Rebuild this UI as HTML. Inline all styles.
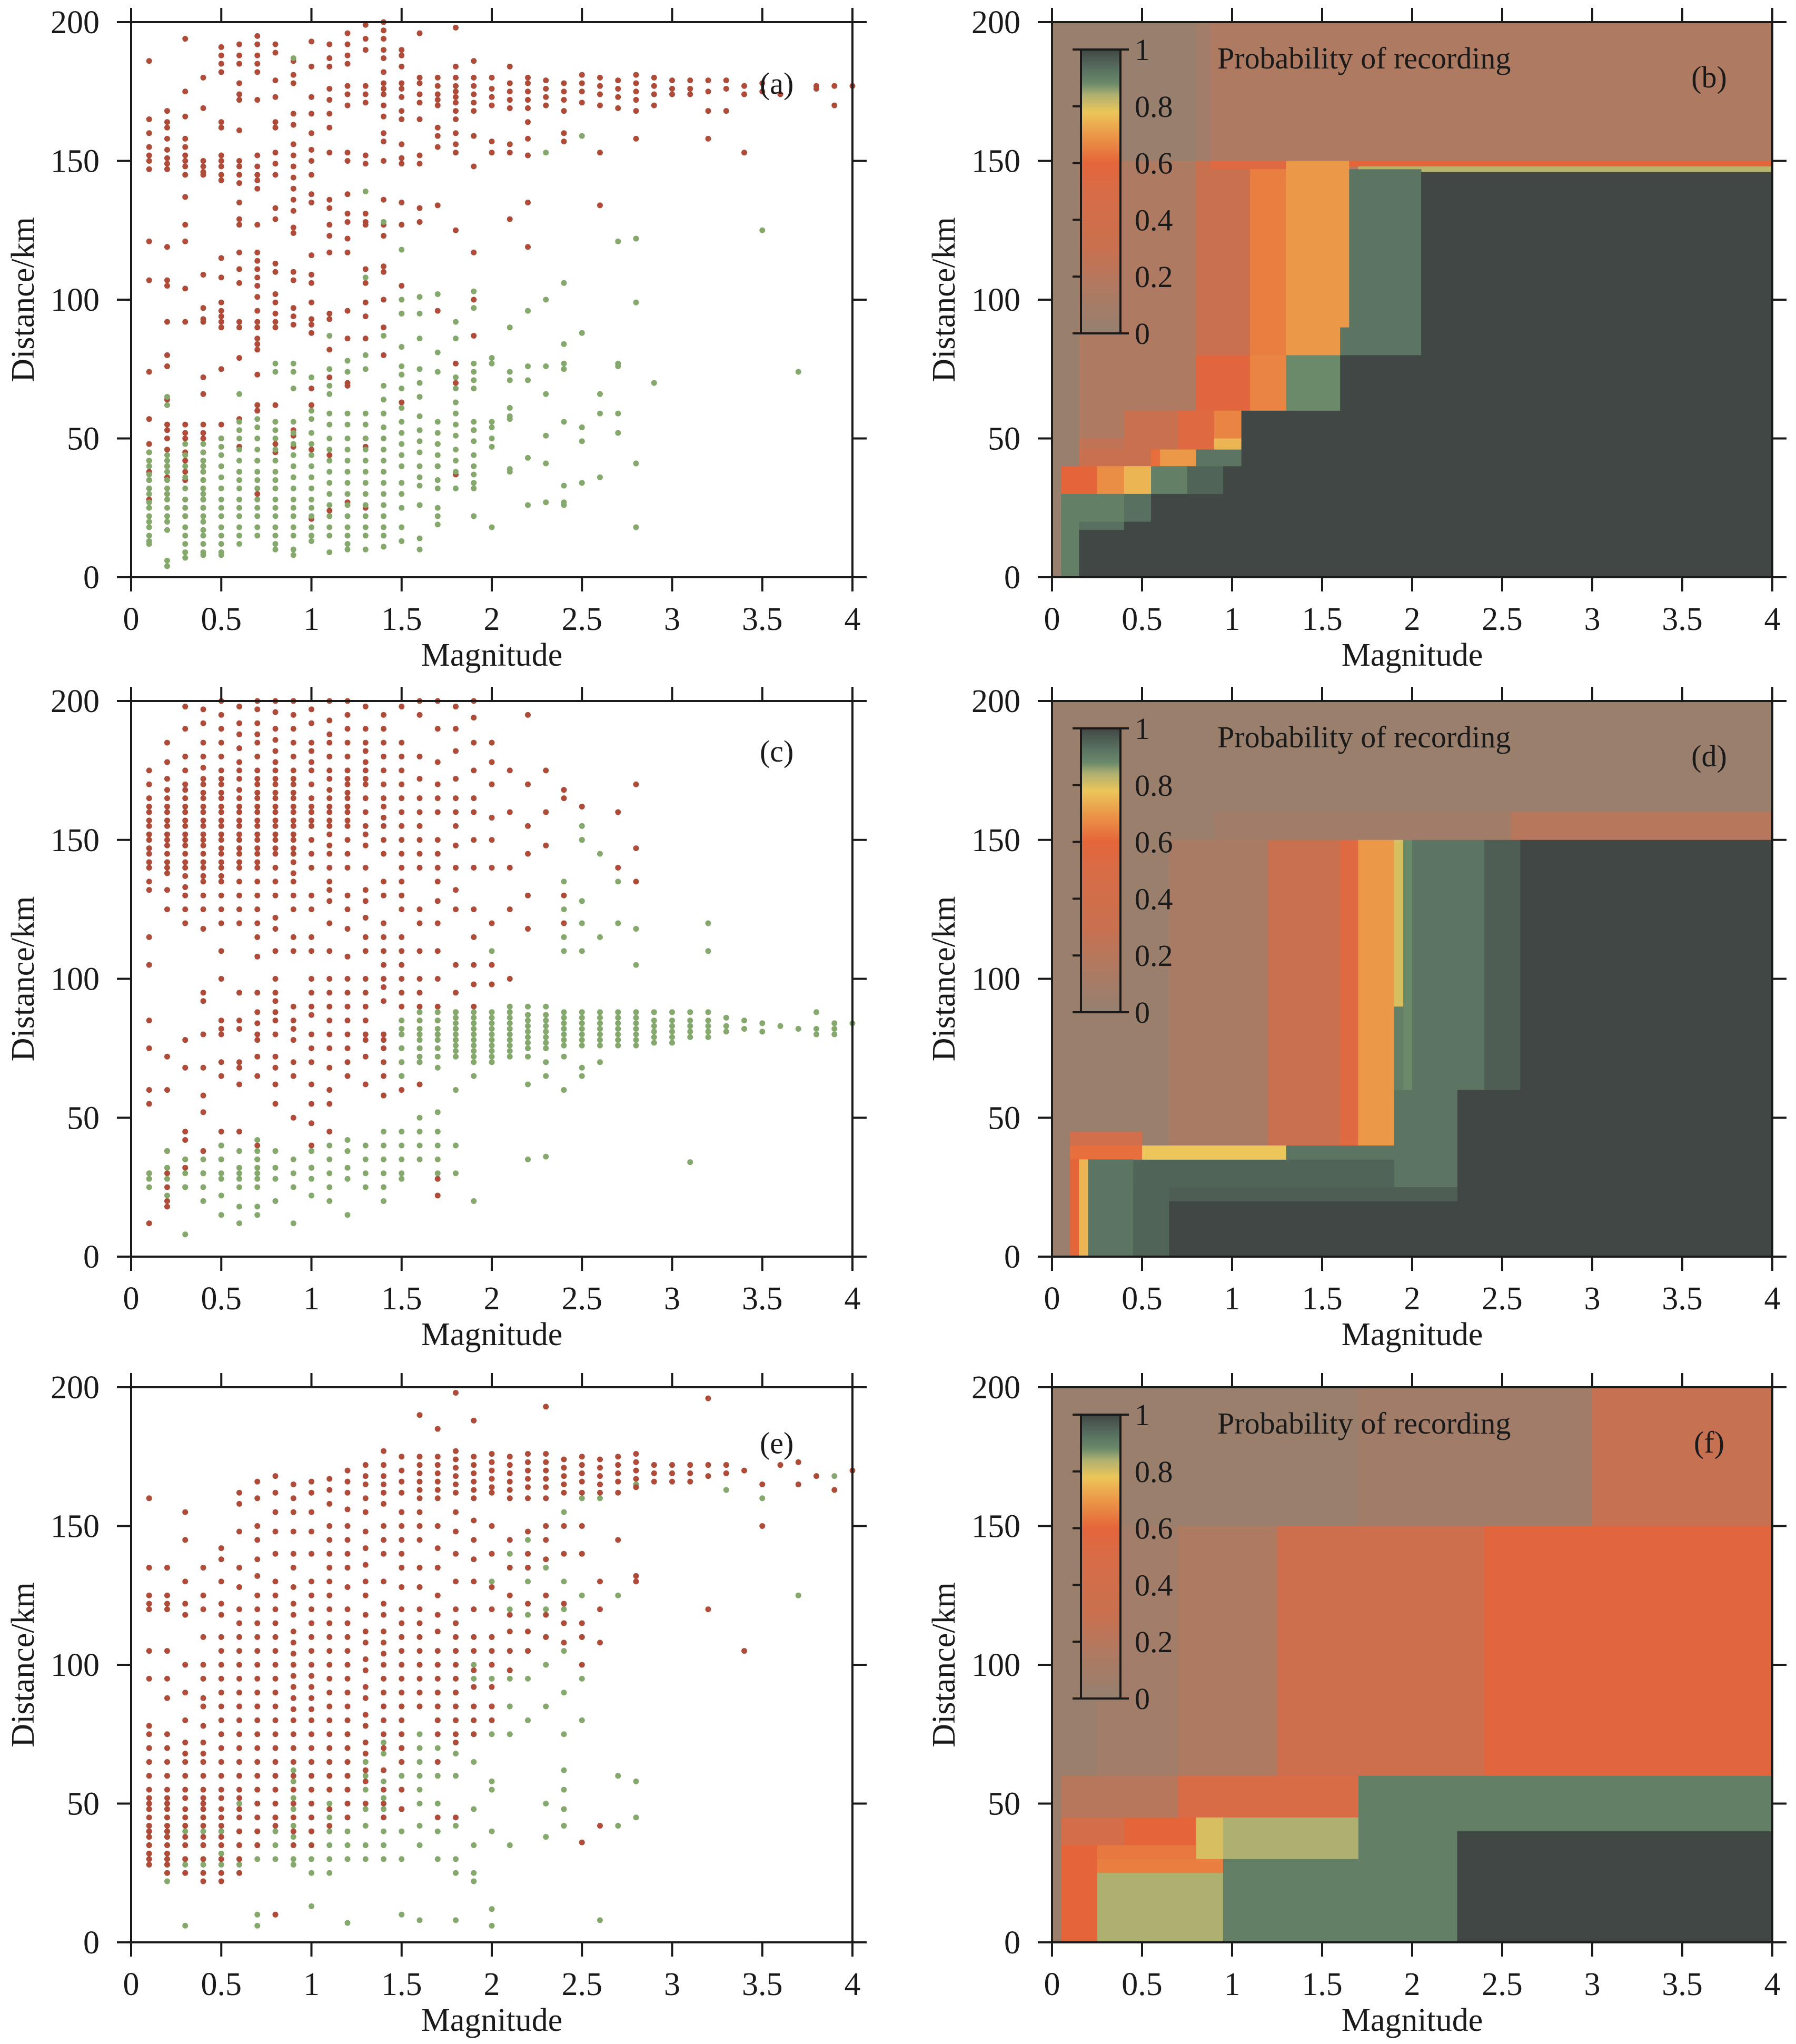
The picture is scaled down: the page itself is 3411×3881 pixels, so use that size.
<!DOCTYPE html>
<html><head><meta charset="utf-8"><style>
html,body{margin:0;padding:0;background:#fff}
svg{display:block}
text{font-family:"Liberation Serif","DejaVu Serif",serif;fill:#1a1a1a}
</style></head><body>
<svg id="fig" xmlns="http://www.w3.org/2000/svg" width="3411" height="3881" viewBox="0 0 3411 3881" font-family="Liberation Serif, DejaVu Serif, serif"></svg>
<script>
// ---------- DATA ----------
const magTicks = [0,0.5,1,1.5,2,2.5,3,3.5,4];
const magTickLabels = ["0","0.5","1","1.5","2","2.5","3","3.5","4"];
const distTicks = [0,50,100,150,200];
const distTickLabels = ["0","50","100","150","200"];
const cbTicks = [0,0.2,0.4,0.6,0.8,1];
const cbTickLabels = ["0","0.2","0.4","0.6","0.8","1"];

// panel a: [magnitude, distances]
const aRed = [
[0.1,[186,165,160,155,152,150,147,121,107,74,57,48,45,42,38,35,32,28]],
[0.2,[168,164,162,158,154,151,149,147,119,107,105,92,80,76,64,55,53,50,46,40,36,30]],
[0.3,[194,175,166,158,155,152,150,148,145,137,127,121,104,92,55,52,50,45,42,38,35,28,22]],
[0.4,[180,169,150,148,146,145,109,97,93,92,72,66,55,52,50,45,42,40,38,35,32,28,25]],
[0.5,[191,188,185,182,164,162,152,150,148,145,143,115,108,99,96,94,92,90,75,55,50]],
[0.6,[192,188,185,178,174,172,161,150,148,145,142,135,129,127,117,111,106,92,90,79,57,47,38]],
[0.7,[195,192,188,185,182,172,152,148,145,143,140,127,117,114,111,108,105,101,96,92,90,86,84,82,73,62,60,42,30]],
[0.8,[192,189,179,173,164,162,153,149,145,133,129,113,110,102,99,95,92,90,62,48,45]],
[0.9,[186,181,178,167,163,156,152,148,144,140,136,132,126,124,110,107,97,94,91,53,51,47]],
[1.0,[193,184,173,167,160,154,150,145,138,135,116,109,106,99,93,91,88,68,62,46,21]],
[1.1,[192,187,184,176,172,167,162,153,136,133,127,123,117,95,93,82,72,44,24]],
[1.2,[196,192,188,185,177,174,170,153,150,138,131,128,122,117,96,86,70,69,27]],
[1.3,[199,194,190,177,174,171,152,149,131,128,127,111,106,99,94,86,50,47,25]],
[1.4,[200,197,194,190,187,182,178,176,174,170,166,160,157,150,136,127,123,112,110,100,90,80]],
[1.5,[190,188,184,178,176,173,168,165,156,151,149,135,127,105,95,73,63]],
[1.6,[196,180,178,174,171,165,152,149,133,128]],
[1.7,[180,177,174,172,170,162,159,155,134,96,48,40]],
[1.8,[198,184,180,177,175,173,171,168,165,160,156,153,125,77,70,37]],
[1.9,[186,180,177,174,171,168,159,148,117,100,87,53]],
[2.0,[180,176,173,170,157,153]],
[2.1,[184,178,175,172,169,156,153,129]],
[2.2,[180,178,175,172,169,164,158,152,135,119]],
[2.3,[179,176,173,170]],
[2.4,[178,175,172,168,160,157]],
[2.5,[181,178,175,171]],
[2.6,[180,177,174,170,153,134]],
[2.7,[179,176,173,169]],
[2.8,[181,178,175,172,168,158]],
[2.9,[180,177,174,170]],
[3.0,[179,176,174]],
[3.1,[179,176,174]],
[3.2,[179,175,168,158]],
[3.3,[179,176,168]],
[3.4,[177,174,153]],
[3.5,[178,175]],
[3.6,[174]],
[3.8,[177,176]],
[3.9,[177,170]],
[4.0,[177]]
];
const aGreen = [
[0.1,[45,42,40,37,35,32,30,27,25,22,20,18,15,13,12]],
[0.2,[65,62,44,42,40,38,35,32,30,28,25,22,20,17,6,4]],
[0.3,[48,44,40,36,32,28,25,22,18,15,12,9,7]],
[0.4,[48,45,42,40,38,35,32,30,28,25,22,20,17,15,12,9,8]],
[0.5,[50,47,44,40,36,32,28,25,22,18,15,12,9,8]],
[0.6,[66,56,53,50,46,42,38,35,32,28,25,22,18,15,12]],
[0.7,[57,54,50,46,42,38,35,32,28,25,22,18,15]],
[0.8,[77,74,56,53,50,46,42,38,35,32,28,25,22,18,15,12,10]],
[0.9,[187,77,74,68,56,52,48,44,40,36,32,28,25,22,18,15,10,8]],
[1.0,[72,60,57,52,48,44,40,36,32,28,25,22,18,15,13]],
[1.1,[87,75,69,66,59,55,50,46,42,38,34,30,26,22,18,15,9]],
[1.2,[78,74,59,55,50,46,42,38,34,30,26,22,18,15,12,10]],
[1.3,[139,108,80,75,59,55,50,46,42,38,34,30,26,22,18,15,10]],
[1.4,[128,87,69,64,59,54,50,46,42,38,34,30,26,22,18,15,11]],
[1.5,[118,100,95,83,76,73,68,61,56,52,48,44,40,34,30,25,18,13]],
[1.6,[101,95,86,75,70,65,58,53,49,45,40,36,33,26,14,10]],
[1.7,[102,81,74,56,52,48,44,40,35,32,25,22,19]],
[1.8,[92,86,72,68,63,59,55,51,46,42,38,32]],
[1.9,[103,97,77,74,71,68,56,53,49,44,40,37,34,32,22]],
[2.0,[79,77,56,54,50,47,18]],
[2.1,[90,74,71,61,58,57,39,38]],
[2.2,[96,76,71,43,26]],
[2.3,[153,100,76,66,51,41,27]],
[2.4,[106,84,77,75,56,33,27,26]],
[2.5,[159,88,54,49,34]],
[2.6,[66,59,36]],
[2.7,[121,77,76,59,52]],
[2.8,[122,99,41,18]],
[2.9,[70]],
[3.5,[125]],
[3.7,[74]]
];
const cRed = [
[0.1,[175,170,165,162,160,157,155,152,150,147,145,142,140,135,132,115,105,85,75,60,55,30,12]],
[0.2,[185,178,172,168,165,162,160,157,155,152,150,148,145,142,140,138,132,125,72,60,38,30,25,20,18]],
[0.3,[198,190,180,175,170,168,165,162,160,157,155,152,150,148,145,142,140,137,133,130,125,120,78,68,45,42,35,32,25]],
[0.4,[197,192,185,180,176,172,170,167,165,162,160,157,155,152,150,148,145,142,140,137,135,130,125,118,95,92,80,68,58,52,38,30]],
[0.5,[200,195,190,185,180,175,172,170,167,165,162,160,157,155,152,150,147,145,142,140,137,135,130,125,120,110,100,85,82,80,70,65,45,40,35]],
[0.6,[198,192,188,183,178,175,172,168,165,162,160,157,155,152,150,147,145,142,140,135,130,125,120,95,85,82,70,68,62,45]],
[0.7,[200,197,192,188,185,180,175,172,170,167,165,162,160,157,155,152,150,147,145,142,140,135,130,125,120,115,108,95,88,84,80,78,72,65,40,35]],
[0.8,[200,196,190,186,182,178,175,172,170,167,165,162,160,157,155,152,150,147,145,140,135,130,122,118,110,100,95,92,88,85,80,72,68,62,55]],
[0.9,[200,195,190,185,180,175,172,170,167,165,162,160,157,155,152,150,147,145,142,138,135,130,125,115,110,90,85,82,78,70,65,50]],
[1.0,[197,192,185,182,178,175,170,165,162,160,157,155,150,145,140,130,125,115,110,100,95,90,87,80,75,70,62,55,48,40,32]],
[1.1,[200,193,188,185,180,175,172,168,165,162,160,157,155,152,148,145,140,135,132,128,120,110,100,95,90,85,80,75,68,60,55,45]],
[1.2,[200,195,190,185,180,175,172,170,167,165,162,160,157,155,150,145,140,130,125,118,108,100,95,90,85,80,75,70,65]],
[1.3,[198,190,185,182,178,175,172,170,165,160,155,152,148,140,132,128,122,115,110,100,95,90,85,80,78,72,62]],
[1.4,[195,190,185,180,175,170,165,162,158,155,150,145,135,130,120,115,110,105,100,97,92,80,78,75,70,65,58]],
[1.5,[198,185,180,175,170,165,160,155,150,145,140,135,130,125,115,110,105,100,95,90,85,80,75,70,65,60]],
[1.6,[200,195,180,172,165,160,155,150,145,140,125,120,110,100,95,90,85,80,75,70,62]],
[1.7,[200,190,178,170,165,160,150,145,140,135,128,120,110,100,90,85,80,75,28,22]],
[1.8,[198,190,182,172,165,160,155,148,140,132,125,105,95,88,82,78]],
[1.9,[200,194,185,175,165,160,150,140,125,115,105,98,90]],
[2.0,[185,178,170,158,150,140,120,105,98]],
[2.1,[175,160,140,125,100]],
[2.2,[195,170,155,145,130,118]],
[2.3,[175,160,148]],
[2.4,[168,165,130,120]],
[2.5,[162,150]],
[2.7,[160,140]],
[2.8,[170,147,135]]
];
const cGreen = [
[0.1,[30,28,25]],[0.2,[38,32,28,22]],[0.3,[35,30,25,8]],[0.4,[35,30,25,20]],
[0.5,[40,35,30,28,22,15]],[0.6,[38,32,30,28,25,18,12]],[0.7,[42,38,35,32,30,28,25,18,15]],
[0.8,[38,32,28,20]],[0.9,[35,30,25,12]],[1.0,[38,32,28,22]],[1.1,[40,35,30,25,20]],
[1.2,[42,38,32,28,15]],[1.3,[40,35,30,25]],[1.4,[45,40,35,30,25,20]],
[1.5,[85,82,80,75,70,65,45,40,35,30,28]],
[1.6,[88,85,82,80,78,75,72,70,50,45,40,35]],
[1.7,[88,85,82,80,78,75,72,68,52,45,40,35,30]],
[1.8,[88,86,84,82,80,78,76,74,72,60,40,30]],
[1.9,[88,86,84,82,80,78,76,74,72,70,65,20]],
[2.0,[110,88,86,84,82,80,78,76,74,72,70]],
[2.1,[90,88,86,84,82,80,78,76,74,72]],
[2.2,[90,87,85,83,81,79,77,75,72,62,35]],
[2.3,[90,87,85,83,81,79,77,75,70,65,36]],
[2.4,[135,125,115,110,88,86,84,82,80,78,76,72,60]],
[2.5,[155,150,128,120,110,88,86,84,82,80,78,76,68,65]],
[2.6,[145,115,88,86,84,82,80,78,76,70]],
[2.7,[135,120,88,86,84,82,80,78,76]],
[2.8,[118,105,88,86,84,82,80,78,76]],
[2.9,[88,85,83,81,79,77]],[3.0,[88,85,83,81,79,77]],[3.1,[88,85,83,81,79,34]],
[3.2,[120,110,88,85,83,81,79]],[3.3,[86,83,81]],[3.4,[85,82]],[3.5,[84,81]],
[3.6,[83]],[3.7,[82]],[3.8,[88,82,80]],[3.9,[84,82,80]],[4.0,[84]]
];
const eRed = [
[0.1,[160,135,125,122,120,105,95,78,75,70,65,60,55,52,50,48,45,42,40,38,35,32,30,28]],
[0.2,[135,125,122,120,105,95,88,75,70,65,60,55,52,50,48,45,42,40,38,35,32,30,28,25]],
[0.3,[155,145,130,122,118,100,90,80,72,68,65,60,55,52,48,45,42,38,35,30,25]],
[0.4,[135,125,120,110,100,95,88,85,78,72,68,65,60,55,52,50,48,45,42,38,35,30,25,22]],
[0.5,[142,138,130,122,118,110,105,100,95,90,85,80,75,70,65,60,55,52,48,45,42,38,35,30,25,22]],
[0.6,[162,158,148,135,128,120,115,110,105,100,95,90,85,80,75,70,65,60,55,52,48,45,40,35,30,25]],
[0.7,[166,160,150,145,138,132,125,120,115,110,105,100,95,90,85,80,75,70,65,60,55,50,45,40,35]],
[0.8,[168,162,155,148,140,130,125,120,115,110,105,100,95,90,85,80,75,70,65,60,55,50,45,42,10]],
[0.9,[165,160,155,148,140,135,128,122,118,112,108,104,100,96,92,88,84,80,75,70,65,60,55,50,45,40,35]],
[1.0,[166,162,155,148,140,130,125,120,115,110,105,100,96,92,88,84,80,75,70,65,60,55,50,45,40,35]],
[1.1,[167,163,158,150,145,140,135,130,125,120,115,110,105,100,95,90,85,80,75,70,65,60,55,48,42]],
[1.2,[170,166,162,156,150,145,140,135,128,120,115,110,105,100,95,90,85,80,75,70,65,60,55,50,45]],
[1.3,[172,168,165,160,155,148,142,136,130,125,118,112,108,102,98,92,88,82,78,72,68,62,58,50]],
[1.4,[177,172,168,165,162,158,150,145,140,130,122,118,112,108,104,100,95,90,85,80,75,70,62,55,50,45]],
[1.5,[175,170,166,162,155,150,145,140,135,128,120,115,110,105,100,95,90,85,80,75,70,65,55,48]],
[1.6,[190,175,172,169,166,163,160,155,150,145,135,128,120,115,110,105,100,95,90,85]],
[1.7,[185,175,172,169,166,163,160,150,142,135,125,118,112,105,100,95,90,85,80,75,65,45]],
[1.8,[198,177,174,171,168,165,162,155,148,140,130,120,115,110,105,100,95,90,85,80,75,72,45]],
[1.9,[188,175,172,169,166,163,160,152,145,138,130,120,110,105,98,92,85,80,75]],
[2.0,[176,173,170,167,164,162,150,140,128,120,110,105,100,92,85,80]],
[2.1,[175,172,169,166,163,160,145,135,125,118,112,105,98]],
[2.2,[176,173,170,167,164,160,148,140,135,122,112,105]],
[2.3,[193,176,173,170,167,164,160,150,145,138,125,118,110]],
[2.4,[174,171,168,165,162,150,140,122,115,108]],
[2.5,[175,172,169,166,162,150,140,115,110,100,36]],
[2.6,[174,171,168,165,162,130,120,108,42]],
[2.7,[175,172,169,166,162,145]],
[2.8,[176,173,170,167,164,132,130]],
[2.9,[172,169,166]],[3.0,[172,169,166]],[3.1,[172,169,166]],
[3.2,[196,172,168,120]],[3.3,[172,169]],[3.4,[170,105]],[3.5,[165,150]],
[3.6,[172]],[3.7,[173,165]],[3.8,[168]],[3.9,[163]],[4.0,[170]]
];
const eGreen = [
[0.1,[40,38,35,32,30]],[0.2,[45,40,38,35,30,28,25,22]],[0.3,[40,35,30,28,25,6]],
[0.4,[45,40,35,30,28,25]],[0.5,[45,40,35,32,28,25]],[0.6,[50,45,40,35,30,28,25]],
[0.7,[55,50,45,40,35,30,10,6]],[0.8,[60,55,50,45,40,35,30,10]],
[0.9,[62,58,52,48,42,38,35,30,28]],[1.0,[65,60,55,50,45,40,35,30,25,13]],
[1.1,[70,65,60,55,50,45,40,35,30,25]],[1.2,[75,70,65,60,55,50,45,40,35,30,7]],
[1.3,[65,60,55,48,42,35,30]],[1.4,[72,68,62,58,52,48,40,35,30]],
[1.5,[85,70,65,60,55,48,40,30,10]],[1.6,[90,85,75,70,65,60,55,50,42,35,8]],
[1.7,[100,90,80,70,60,50,40,30]],[1.8,[115,105,90,80,68,60,42,30,25,8]],
[1.9,[120,100,95,85,75,65,48,35,25,22]],[2.0,[130,110,95,85,75,58,55,40,12,6]],
[2.1,[140,120,105,95,85,75,35]],[2.2,[145,130,118,105,95,80]],
[2.3,[150,135,120,110,100,85,50,38]],[2.4,[155,130,120,105,90,75,62,55,48,42]],
[2.5,[160,140,125,110,95,80]],[2.6,[160,8]],[2.7,[125,60,42]],[2.8,[165,58,45]],
[3.3,[163]],[3.5,[160]],[3.7,[125]],[3.9,[168]]
];
// heatmap cells: [mag0, mag1, dist0, dist1, probability]
const bCells = [
[0,4,0,200,0.15],[0,0.8,150,200,0.02],[0,0.15,40,150,0.02],[0,0.05,0,40,0.02],
[0.8,0.88,150,200,0.08],[0.8,1.1,80,150,0.3],[0.88,1.3,147,150,0.55],
[1.1,1.3,80,147,0.65],[1.3,1.65,80,150,0.7],[1.65,4,148,150,0.6],[1.7,4,146,148,0.83],
[1.65,2.05,80,147,0.92],[1.6,1.65,80,90,0.92],[2.05,4,0,146,1],
[0.8,1.1,60,80,0.58],[1.1,1.3,60,80,0.66],[1.3,1.6,60,80,0.88],
[1.6,2.05,0,80,1],[1.05,1.6,0,60,1],
[0.4,0.9,46,60,0.3],[0.7,0.9,46,60,0.55],[0.9,1.05,50,60,0.66],[0.9,1.05,46,50,0.75],
[0.15,0.4,46,50,0.25],[0.15,0.55,40,46,0.3],[0.55,0.6,40,46,0.62],[0.6,0.8,40,46,0.7],[0.8,1.05,40,46,0.92],
[0.05,0.25,30,40,0.6],[0.25,0.4,30,40,0.68],[0.4,0.55,30,40,0.75],[0.55,0.75,30,40,0.9],[0.75,0.95,30,40,0.95],[0.95,1.05,0,40,1],
[0.05,0.55,20,30,0.9],[0.4,0.55,20,30,0.93],[0.55,0.95,0,30,1],
[0.05,0.15,0,20,0.9],[0.15,0.4,17,20,0.93],[0.15,0.55,0,17,1],[0.4,0.55,17,20,1]
];
const dCells = [
[0,4,0,200,0.12],
[0,4,150,200,0.03],[0.9,2.55,150,160,0.07],[2.55,4,150,160,0.2],
[0,0.65,40,150,0.03],[0,0.1,0,40,0.03],
[0.65,1.2,40,150,0.12],[1.2,1.6,40,150,0.3],[1.6,1.7,40,150,0.55],[1.7,1.9,40,150,0.7],
[1.9,1.95,90,150,0.8],[1.95,2.0,40,150,0.88],[1.9,1.95,40,90,0.9],
[2.0,2.4,60,150,0.92],[2.4,2.6,60,150,0.96],[2.6,4,0,150,1],[2.25,2.6,0,60,1],
[1.9,2.25,25,60,0.92],[0.45,1.9,25,35,0.95],
[0.1,0.5,40,45,0.4],[0.1,0.5,35,40,0.62],[0.5,1.3,35,40,0.78],[1.3,1.9,35,40,0.92],
[0.1,0.15,0,35,0.6],[0.15,0.2,0,35,0.75],[0.2,0.45,0,35,0.92],[0.45,0.65,0,25,0.95],
[0.65,2.25,0,20,1],[0.65,2.25,20,25,0.96]
];
const fCells = [
[0,4,0,200,0.6],
[0,4,150,200,0.03],[1.7,3.0,150,200,0.07],[3.0,4,150,200,0.28],
[0,0.25,60,150,0.03],[0.25,0.7,60,150,0.08],[0.7,1.25,60,150,0.15],[1.25,2.4,60,150,0.35],[2.4,4,60,150,0.58],
[1.7,4,0,60,0.9],[2.25,4,0,40,1],
[0,0.05,0,60,0.03],[0.05,0.7,45,60,0.2],[0.7,1.7,45,60,0.5],[0.05,0.4,35,45,0.45],[0.4,0.8,35,45,0.6],
[0.8,0.95,30,45,0.8],[0.95,1.7,30,45,0.84],[0.05,0.25,0,35,0.6],[0.25,0.8,30,35,0.64],[0.25,0.95,25,30,0.65],[0.25,0.95,0,25,0.84],[0.95,1.7,0,30,0.9]
];
// colormap stops
const cmapPos = [0,0.15,0.3,0.5,0.6,0.7,0.78,0.84,0.88,0.93,1];
const cmapCol = ["#958070","#AE7A62","#C9704F","#D86C47","#E5653A","#EB9848","#ECC65A","#AEB070","#6A8A6A","#587060","#414745"];

// ---------- DRAW ----------
const NS="http://www.w3.org/2000/svg";
const svg=document.getElementById('fig');
const FONT='"Liberation Serif","DejaVu Serif",serif';
function mk(tag,attrs,parent){const e=document.createElementNS(NS,tag);for(const k in attrs)e.setAttribute(k,attrs[k]);if(tag==='text')e.setAttribute('font-family',FONT);(parent||svg).appendChild(e);return e;}
function hex(h){return [parseInt(h.slice(1,3),16),parseInt(h.slice(3,5),16),parseInt(h.slice(5,7),16)];}
function cmap(p){
  for(let i=0;i<cmapPos.length-1;i++){
    if(p<=cmapPos[i+1]){const t=(p-cmapPos[i])/(cmapPos[i+1]-cmapPos[i]);const a=hex(cmapCol[i]),b=hex(cmapCol[i+1]);
      return 'rgb('+a.map((v,j)=>Math.round(v+(b[j]-v)*t)).join(',')+')';}
  }
  return cmapCol[cmapCol.length-1];
}
const L={x0:249,x1:1619}, R={x0:1998,x1:3366};
const rows=[{y0:42,y1:1096},{y0:1331,y1:2386},{y0:2634,y1:3688}];

function panel(name,col,row,label){
  const g=mk('g',{});
  
  
  const sx=m=>col.x0+(m/4)*(col.x1-col.x0);
  const sy=d=>row.y1-(d/200)*(row.y1-row.y0);
  return {g,sx,sy,col,row,label};
}
function axes(P,isRight){
  const {g,sx,sy,col,row}=P;
  const ag=mk('g',{},g);
  
  
  mk('rect',{x:col.x0,y:row.y0,width:col.x1-col.x0,height:row.y1-row.y0,fill:'none',stroke:'#1a1a1a','stroke-width':4},ag);
  magTicks.forEach((m,i)=>{
    const x=sx(m);
    mk('line',{x1:x,x2:x,y1:row.y1,y2:row.y1+27,stroke:'#1a1a1a','stroke-width':4},ag);
    mk('line',{x1:x,x2:x,y1:row.y0,y2:row.y0-27,stroke:'#1a1a1a','stroke-width':4},ag);
    const t=mk('text',{x:x,y:row.y1+100,'font-size':62,'text-anchor':'middle'},ag);
    
    
    t.textContent=magTickLabels[i];
  });
  distTicks.forEach((d,i)=>{
    const y=sy(d);
    mk('line',{x1:col.x0,x2:col.x0-27,y1:y,y2:y,stroke:'#1a1a1a','stroke-width':4},ag);
    mk('line',{x1:col.x1,x2:col.x1+27,y1:y,y2:y,stroke:'#1a1a1a','stroke-width':4},ag);
    const t=mk('text',{x:col.x0-60,y:y+21,'font-size':62,'text-anchor':'end'},ag);
    
    
    t.textContent=distTickLabels[i];
  });
  const xt=mk('text',{x:(col.x0+col.x1)/2,y:row.y1+168,'font-size':62,'text-anchor':'middle'},ag);
  
  
  xt.textContent='Magnitude';
  const yx=isRight?1793:44, yc=(row.y0+row.y1)/2;
  const yt=mk('text',{x:yx,y:yc+20,'font-size':62,'text-anchor':'middle',transform:'rotate(-90 '+yx+' '+yc+')'},ag);
  
  
  yt.textContent='Distance/km';
}
function scatter(P,red,green,redFirst){
  const draw=(data,color,nm)=>{
    const sg=mk('g',{fill:color},P.g);
    
    
    data.forEach(([m,ds])=>ds.forEach(d=>{
      const c=mk('circle',{cx:P.sx(m),cy:P.sy(d),r:5.5},sg);
      
      
    }));
  };
  if(redFirst){draw(red,'#AE4B39','unrecorded-points');draw(green,'#85A86C','recorded-points');}
  else{draw(green,'#85A86C','recorded-points');draw(red,'#AE4B39','unrecorded-points');}
  const t=mk('text',{x:P.sx(P.labelX||3.58),y:P.sy(P.labelY||174)+20,'font-size':58,'text-anchor':'middle'},P.g);
  
  
  t.textContent=P.label;
}
function heat(P,cells){
  const hg=mk('g',{},P.g);
  
  
  cells.forEach(([m0,m1,d0,d1,p])=>{
    const r=mk('rect',{x:P.sx(m0),y:P.sy(d1),width:P.sx(m1)-P.sx(m0)+0.5,height:P.sy(d0)-P.sy(d1)+0.5,fill:cmap(p)},hg);
    
    
  });
  const cb=mk('g',{},P.g);
  
  
  const cx0=P.col.x0+55, cx1=P.col.x0+130, cy0=P.row.y0+52, cy1=P.row.y0+591;
  const defs=mk('defs',{},cb);
  const gid='grad'+P.label.replace(/\W/g,'');
  const lg=mk('linearGradient',{id:gid,x1:0,y1:1,x2:0,y2:0},defs);
  cmapPos.forEach((p,i)=>mk('stop',{offset:p,'stop-color':cmapCol[i]},lg));
  mk('rect',{x:cx0,y:cy0,width:cx1-cx0,height:cy1-cy0,fill:'url(#'+gid+')'},cb);
  mk('line',{x1:cx0,x2:cx0,y1:cy0,y2:cy1,stroke:'#1a1a1a','stroke-width':4},cb);
  mk('line',{x1:cx1,x2:cx1,y1:cy0,y2:cy1,stroke:'#1a1a1a','stroke-width':4},cb);
  cbTicks.forEach((v,i)=>{
    const y=cy1-v*(cy1-cy0);
    if(v===0||v===1) mk('line',{x1:cx0-16,x2:cx1+16,y1:y,y2:y,stroke:'#1a1a1a','stroke-width':4},cb);
    else mk('line',{x1:cx0-16,x2:cx0,y1:y,y2:y,stroke:'#1a1a1a','stroke-width':4},cb);
    const t=mk('text',{x:cx1+27,y:y+20,'font-size':58},cb);
    
    
    t.textContent=cbTickLabels[i];
  });
  const tt=mk('text',{x:P.col.x0+314,y:P.row.y0+88,'font-size':58},P.g);
  
  
  tt.textContent='Probability of recording';
  const pl=mk('text',{x:P.col.x0+1248,y:P.row.y0+124,'font-size':58,'text-anchor':'middle'},P.g);
  
  
  pl.textContent=P.label;
}
const pa=panel('panel-a-scatter',L,rows[0],'(a)'); pa.labelX=3.58; pa.labelY=178;
scatter(pa,aRed,aGreen,true); axes(pa,false);
const pb=panel('panel-b-heatmap',R,rows[0],'(b)'); heat(pb,bCells); axes(pb,true);
const pc=panel('panel-c-scatter',L,rows[1],'(c)'); pc.labelX=3.58; pc.labelY=182;
scatter(pc,cRed,cGreen,true); axes(pc,false);
const pd=panel('panel-d-heatmap',R,rows[1],'(d)'); heat(pd,dCells); axes(pd,true);
const pe=panel('panel-e-scatter',L,rows[2],'(e)'); pe.labelX=3.58; pe.labelY=180;
scatter(pe,eRed,eGreen,false); axes(pe,false);
const pf=panel('panel-f-heatmap',R,rows[2],'(f)'); heat(pf,fCells); axes(pf,true);
</script>
</body></html>
